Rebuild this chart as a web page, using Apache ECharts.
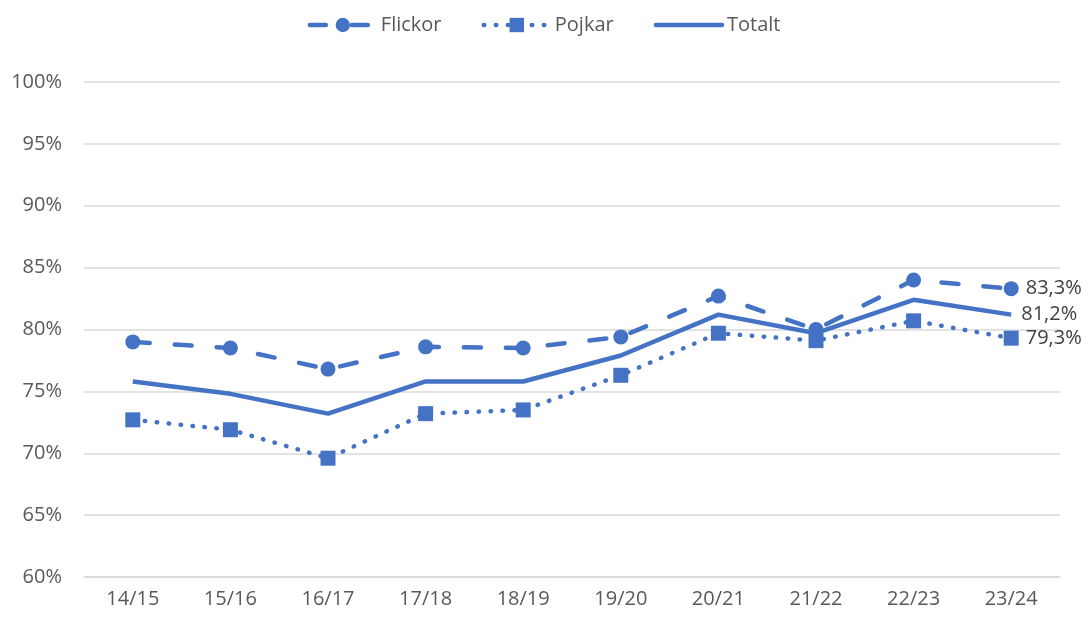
<!DOCTYPE html>
<html><head><meta charset="utf-8">
<script src="https://cdn.jsdelivr.net/npm/echarts@6/dist/echarts.min.js"></script>
<style>html,body{margin:0;padding:0;background:#fff}#c{width:1088px;height:617px}</style>
</head><body><div id="c"></div>
<script>
const categories = ['14/15','15/16','16/17','17/18','18/19','19/20','20/21','21/22','22/23','23/24'];
const flickor = [79.0, 78.5, 76.8, 78.6, 78.5, 79.4, 82.7, 80.0, 84.0, 83.3];
const pojkar  = [72.7, 71.9, 69.6, 73.2, 73.5, 76.3, 79.7, 79.1, 80.7, 79.3];
const totalt  = [75.8, 74.8, 73.2, 75.8, 75.8, 77.9, 81.2, 79.7, 82.4, 81.2];
const yTicks = { min: 60, max: 100, interval: 5 };

const blue = '#4472C4';
const font = 'Open Sans, Noto Sans, sans-serif';
const fmt = v => v.toFixed(1).replace('.', ',') + '%';
const dashType = [17, 25];
const dotType = [0.5, 11.5];
const lastLabel = (arr) => ({
  show: true, position: 'right', distance: 7, color: '#404040', fontSize: 20, fontFamily: font,
  formatter: p => p.dataIndex === arr.length - 1 ? fmt(arr[p.dataIndex]) : ''
});

const chart = echarts.init(document.getElementById('c'), null, {renderer: 'canvas'});
chart.setOption({
  animation: false,
  legend: {
    top: 10, left: 'center', itemWidth: 66, itemHeight: 18, itemGap: 40,
    textStyle: { color: '#595959', fontSize: 20, fontFamily: font },
    data: [
      { name: 'Flickor', lineStyle: { width: 4.5, type: [16, 26], cap: 'round' } },
      { name: 'Pojkar', lineStyle: { width: 4.5, type: dotType, cap: 'round' } },
      { name: 'Totalt', lineStyle: { width: 4.5, type: 'solid', cap: 'round' }, itemStyle: { opacity: 0 } }
    ]
  },
  grid: { left: 84, right: 28, top: 82, bottom: 40, containLabel: false },
  xAxis: {
    type: 'category', data: categories, boundaryGap: true,
    axisLine: { show: true, lineStyle: { color: '#d9d9d9', width: 1.5 } },
    axisTick: { show: false },
    axisLabel: { color: '#595959', fontSize: 20, fontFamily: font, margin: 12 }
  },
  yAxis: {
    type: 'value', min: yTicks.min, max: yTicks.max, interval: yTicks.interval,
    axisLine: { show: false }, axisTick: { show: false },
    splitLine: { lineStyle: { color: '#d9d9d9', width: 1.5 } },
    axisLabel: { color: '#595959', fontSize: 20, fontFamily: font, margin: 22, formatter: v => v + '%' }
  },
  series: [
    { name: 'Flickor', type: 'line', data: flickor, symbol: 'circle', symbolSize: 15,
      itemStyle: { color: blue }, lineStyle: { color: blue, width: 4.5, type: dashType, cap: 'round' },
      label: lastLabel(flickor), z: 3 },
    { name: 'Pojkar', type: 'line', data: pojkar, symbol: 'rect', symbolSize: 15,
      itemStyle: { color: blue }, lineStyle: { color: blue, width: 4.5, type: dotType, cap: 'round' },
      label: lastLabel(pojkar), z: 3 },
    { name: 'Totalt', type: 'line', data: totalt, symbol: 'none', showSymbol: false,
      itemStyle: { color: blue }, lineStyle: { color: blue, width: 4.5 },
      endLabel: { show: true, color: '#404040', fontSize: 20, fontFamily: font, distance: 10, formatter: p => fmt(p.value) }, z: 2 }
  ]
});
</script></body></html>
